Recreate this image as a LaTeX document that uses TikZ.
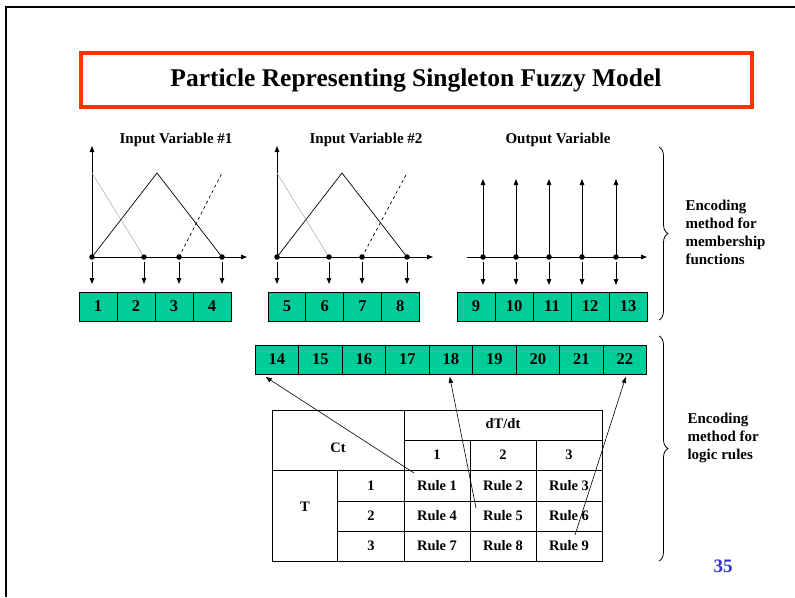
\documentclass[tikz,border=0pt]{standalone}
\usepackage{fontspec}
\setmainfont{Liberation Serif}
\usetikzlibrary{arrows.meta,decorations.pathreplacing}
\definecolor{cellgreen}{RGB}{0,204,153}
\definecolor{titlered}{RGB}{255,51,0}
\definecolor{pageblue}{RGB}{51,51,204}
\begin{document}
\begin{tikzpicture}[x=1pt,y=-1pt,
  tip/.style={-{Triangle[length=6pt,width=4.5pt]}},
  axis/.style={line width=0.9pt,tip},
  dot/.style={circle,fill=black,inner sep=0pt,minimum size=5.5pt},
  cell/.style={draw,line width=0.8pt,fill=cellgreen,minimum height=29pt,inner sep=0pt,
    outer sep=0pt,anchor=north west,font=\fontsize{16.5}{16.5}\selectfont\bfseries},
  lbl/.style={font=\fontsize{15}{15}\selectfont\bfseries},
  side/.style={font=\fontsize{15}{18}\selectfont\bfseries,align=left,anchor=west},
  tcell/.style={font=\fontsize{14.5}{14.5}\selectfont\bfseries},
  bracedec/.style={decorate,decoration={brace,amplitude=9pt},line width=0.8pt},
  ruleptr/.style={line width=0.6pt,tip}]
\useasboundingbox (0,0) rectangle (795,597);

% page frame
\draw[line width=2.5pt] (6,597) -- (6,7) -- (795,7);

% title
\node[draw=titlered,line width=4pt,minimum width=671pt,minimum height=54pt,
      font=\fontsize{25.5}{25.5}\selectfont\bfseries] (title) at (416,80)
      {Particle Representing Singleton Fuzzy Model};

% ---------- input variable #1 ----------
\node[lbl] (h1) at (176,140) {Input Variable \#1};
\draw[axis] (92,257) -- (92,146);
\draw[axis] (92,257) -- (247,257);
\draw[gray!60,line width=0.6pt] (92,173) -- (144,257);
\draw[line width=0.7pt] (92,257) -- (157,173) -- (222,257);
\draw[line width=0.7pt,dashed] (179,257) -- (222,173);
\foreach \x/\n in {92/a1,144/a2,179/a3,222/a4}{
  \node[dot] (\n) at (\x,257) {};
  \coordinate (\n e) at (\x,284);
  \draw[axis] ([yshift=-5pt]\n.center) -- (\n e);
}
\node[cell,minimum width=38pt] (c1) at (79,292) {1};
\node[cell,minimum width=38pt] (c2) at (c1.north east) {2};
\node[cell,minimum width=38pt] (c3) at (c2.north east) {3};
\node[cell,minimum width=38pt] (c4) at (c3.north east) {4};

% ---------- input variable #2 ----------
\node[lbl] (h2) at (366,140) {Input Variable \#2};
\draw[axis] (277,257) -- (277,146);
\draw[axis] (277,257) -- (433,257);
\draw[gray!60,line width=0.6pt] (277,173) -- (329,257);
\draw[line width=0.7pt] (277,257) -- (342,173) -- (407,257);
\draw[line width=0.7pt,dashed] (362,257) -- (407,173);
\foreach \x/\n in {277/b1,329/b2,362/b3,407/b4}{
  \node[dot] (\n) at (\x,257) {};
  \coordinate (\n e) at (\x,284);
  \draw[axis] ([yshift=-5pt]\n.center) -- (\n e);
}
\node[cell,minimum width=37.75pt] (c5) at (268,292) {5};
\node[cell,minimum width=37.75pt] (c6) at (c5.north east) {6};
\node[cell,minimum width=37.75pt] (c7) at (c6.north east) {7};
\node[cell,minimum width=37.75pt] (c8) at (c7.north east) {8};

% ---------- output variable ----------
\node[lbl] (h3) at (558,140) {Output Variable};
\draw[axis] (467,257) -- (647,257);
\foreach \x/\n in {483/d1,516/d2,549/d3,582/d4,616/d5}{
  \node[dot] (\n) at (\x,257) {};
  \coordinate (\n t) at (\x,179);
  \coordinate (\n e) at (\x,285);
  \draw[axis] (\n.center) -- (\n t);
  \draw[axis] ([yshift=-5pt]\n.center) -- (\n e);
}
\node[cell,minimum width=38pt] (c9) at (457,292) {9};
\node[cell,minimum width=38pt] (c10) at (c9.north east) {10};
\node[cell,minimum width=38pt] (c11) at (c10.north east) {11};
\node[cell,minimum width=38pt] (c12) at (c11.north east) {12};
\node[cell,minimum width=38pt] (c13) at (c12.north east) {13};

% ---------- rule genes ----------
\node[cell,minimum width=43.5pt] (c14) at (255,345) {14};
\foreach \p/\n in {14/15,15/16,16/17,17/18,18/19,19/20,20/21,21/22}{
  \node[cell,minimum width=43.5pt] (c\n) at (c\p.north east) {\n};
}

% ---------- rule table ----------
\draw[line width=0.8pt] (272,410) rectangle (602,561);
\draw[line width=0.8pt] (404,410) -- (404,561);
\draw[line width=0.8pt] (404,440) -- (602,440);
\draw[line width=0.8pt] (272,470) -- (602,470);
\draw[line width=0.8pt] (337,470) -- (337,561);
\draw[line width=0.8pt] (337,501) -- (602,501);
\draw[line width=0.8pt] (337,531) -- (602,531);
\draw[line width=0.8pt] (470,440) -- (470,561);
\draw[line width=0.8pt] (536,440) -- (536,561);

\node[tcell] (ct) at (338,448) {Ct};
\node[tcell] (dt) at (503,424) {dT/dt};
\node[tcell] (k1) at (437,455) {1};
\node[tcell] (k2) at (503,455) {2};
\node[tcell] (k3) at (569,455) {3};
\node[tcell] (tt) at (305,507) {T};
\node[tcell] (j1) at (371,486) {1};
\node[tcell] (j2) at (371,516) {2};
\node[tcell] (j3) at (371,546) {3};
\foreach \r/\y in {0/486,1/516,2/546}{
  \foreach \c/\x in {1/437,2/503,3/569}{
    \pgfmathtruncatemacro{\k}{3*\r+\c}
    \node[tcell] (r\k) at (\x,\y) {Rule \k};
  }
}

% pointers from rules to their genes
\coordinate (p1) at (414,473);
\coordinate (p5) at (476,508);
\coordinate (p9) at (575,535);
\draw[ruleptr] (p1) -- ([xshift=-11pt,yshift=-3pt]c14.south);
\draw[ruleptr] (p5) -- ([xshift=-1pt,yshift=-3pt]c18.south);
\draw[ruleptr] (p9) -- ([xshift=1pt,yshift=-3pt]c22.south);

% ---------- braces and side notes ----------
\draw[bracedec] (659,147) -- (659,320);
\node[side] (m1) at (682,232) {Encoding\\method for\\membership\\functions};
\draw[bracedec] (659,336) -- (659,561);
\node[side] (m2) at (684,438) {Encoding\\method for\\logic rules};

\node[font=\fontsize{19}{19}\selectfont\bfseries,text=pageblue] (pg) at (723,566) {35};
\end{tikzpicture}
\end{document}
